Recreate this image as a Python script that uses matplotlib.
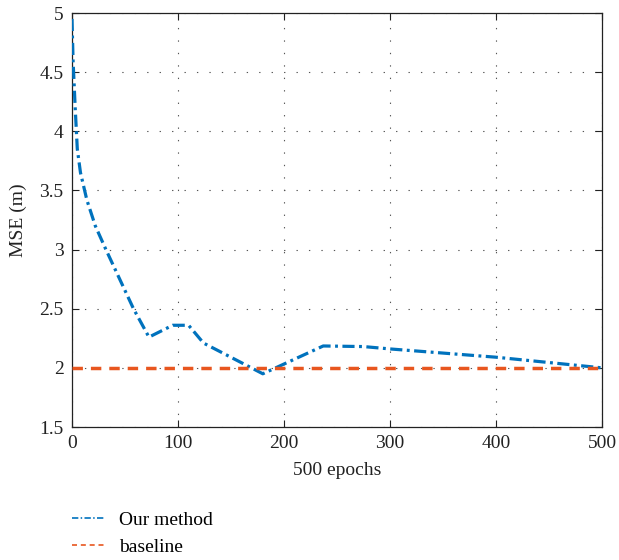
import matplotlib
matplotlib.use("Agg")
import matplotlib.pyplot as plt

# data
epochs = [0, 1, 3, 5, 8, 14, 22, 32, 45, 58, 72.6, 95, 110, 124, 180, 237, 275, 300, 400, 500]
mse_ours = [4.95, 4.6, 4.2, 3.85, 3.65, 3.42, 3.2, 3.0, 2.75, 2.5, 2.26, 2.36, 2.36, 2.21, 1.95, 2.185, 2.18, 2.16, 2.09, 2.0]
baseline_x = [0, 500]
baseline_y = [2.0, 2.0]
xticks = [0, 100, 200, 300, 400, 500]
yticks = [1.5, 2, 2.5, 3, 3.5, 4, 4.5, 5]
ytick_labels = ["1.5", "2", "2.5", "3", "3.5", "4", "4.5", "5"]

plt.rcParams['font.family'] = ['Liberation Serif', 'DejaVu Serif']
fig = plt.figure(figsize=(6.19, 5.6), dpi=100)
ax = fig.add_axes([72/619, 1-427/560, 530/619, 414/560])

blue = '#0072BD'
orange = '#E8561F'
l1, = ax.plot(epochs, mse_ours, color=blue, lw=2.3, dashes=(3.8, 1.4, 0.9, 1.4),
              label='Our method', zorder=3)
l2, = ax.plot(baseline_x, baseline_y, color=orange, lw=2.5, dashes=(3, 2.3),
              label='baseline', zorder=4)

ax.set_xlim(0, 500)
ax.set_ylim(1.5, 5)
ax.set_xticks(xticks)
ax.set_yticks(yticks)
ax.set_yticklabels(ytick_labels)
ax.tick_params(direction='in', top=True, right=True, length=5, width=0.8,
               labelsize=14, colors='#222222', pad=6)
ax.grid(True, color='#555555', lw=0.8, linestyle=(0, (1.2, 10)))
for s in ax.spines.values():
    s.set_linewidth(0.9)
    s.set_color('#222222')

ax.set_xlabel('500 epochs', fontsize=14, color='#222222', labelpad=7)
ax.set_ylabel('MSE (m)', fontsize=14, color='#222222', labelpad=9)

leg = fig.legend(handles=[l1, l2], loc='upper left', bbox_to_anchor=(72/619, 1-511/560),
                 frameon=False, fontsize=14, handlelength=1.7, handletextpad=0.7,
                 labelspacing=0.5, borderpad=0, borderaxespad=0)
for h in leg.legend_handles:
    h.set_linewidth(1.2)

fig.savefig('out.png', dpi=100)
